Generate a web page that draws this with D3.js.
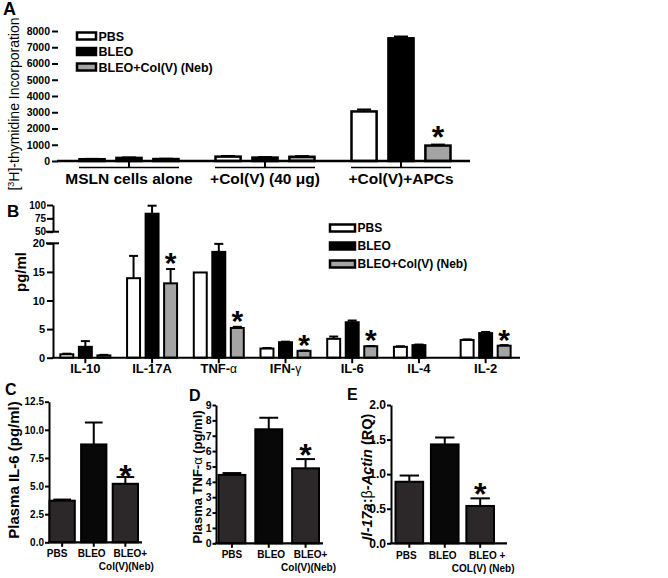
<!DOCTYPE html>
<html><head><meta charset="utf-8">
<script src="https://cdn.jsdelivr.net/npm/d3@7"></script>
<style>body{margin:0;background:#fff} svg{display:block} text{font-family:"Liberation Sans",Arial,Helvetica,sans-serif}</style>
</head><body>
<svg id="chart" width="668" height="578"></svg>
<script>
// ---------------- DATA ----------------
const seriesNames = ["PBS", "BLEO", "BLEO+Col(V) (Neb)"];

// Panel A : [3H]-thymidine incorporation
const groupsA  = ["MSLN cells alone", "+Col(V) (40 μg)", "+Col(V)+APCs"];
const pbsA     = [110, 270, 3050];
const bleoA    = [190, 210, 7550];
const nebA     = [120, 260, 950];
const pbsAErr  = [20, 40, 120];
const bleoAErr = [30, 30, 110];
const nebAErr  = [20, 40, 60];
const sigA     = [false, false, true];
const ticksA   = [0, 1000, 2000, 3000, 4000, 5000, 6000, 7000, 8000];

// Panel B : cytokines pg/ml
const cytokines = ["IL-10", "IL-17A", "TNF-α", "IFN-γ", "IL-6", "IL-4", "IL-2"];
const pbsB      = [0.6, 13.9, 14.9, 1.6, 3.3, 1.9, 3.1];
const bleoB     = [1.9, 83.7, 18.5, 2.7, 6.2, 2.2, 4.3];
const nebB      = [0.4, 13.0, 5.2, 1.2, 2.0, null, 2.1];
const pbsBErr   = [0.1, 3.9, 0, 0.1, 0.4, 0.1, 0.1];
const bleoBErr  = [1.0, 15, 1.4, 0.1, 0.3, 0.1, 0.2];
const nebBErr   = [0.1, 2.5, 0.2, 0.05, 0.05, null, 0.1];
const sigB      = [false, true, true, true, true, false, true];
const ticksBLow  = [0, 5, 10, 15, 20];
const ticksBHigh = [50, 75, 100];

// Panel C : plasma IL-6
const catsC  = ["PBS", "BLEO", "BLEO+\nCol(V)(Neb)"];
const valsC  = [3.7, 8.7, 5.2];
const errsC  = [0.1, 1.95, 0.6];
const sigC   = [false, false, true];
const ticksC = [0, 2.5, 5, 7.5, 10, 12.5];

// Panel D : plasma TNF-α
const catsD  = ["PBS", "BLEO", "BLEO+\nCol(V)(Neb)"];
const valsD  = [4.45, 7.42, 4.88];
const errsD  = [0.12, 0.75, 0.6];
const sigD   = [false, false, true];
const ticksD = [0, 1, 2, 3, 4, 5, 6, 7, 8, 9];

// Panel E : Il-17a : β-Actin
const catsE  = ["PBS", "BLEO", "BLEO +\nCOL(V) (Neb)"];
const valsE  = [0.89, 1.43, 0.54];
const errsE  = [0.09, 0.1, 0.11];
const sigE   = [false, false, true];
const ticksE = [0, 0.5, 1, 1.5, 2];

// ---------------- DRAWING ----------------
const FONT = '"Liberation Sans", Arial, Helvetica, sans-serif';
const svg = d3.select("#chart");
const fillsAB = ["#ffffff", "#000000", "#a4a4a4"];
const fillsCDE = ["#2c2829", "#080808", "#2c2829"];

function styleAxis(g, fs) {
  g.attr("font-family", FONT).attr("font-size", fs);
  g.selectAll("text").attr("font-size", fs).attr("font-weight", "bold").attr("fill", "#000");
  g.selectAll("line").attr("stroke", "#000").attr("stroke-width", 2);
  g.select(".domain").attr("stroke", "#000").attr("stroke-width", 2);
}
function star(g, x, cy, fs) {
  g.append("text").attr("x", x).attr("y", cy + 0.58 * fs).attr("text-anchor", "middle")
    .attr("font-size", fs).attr("font-weight", "bold").text("*");
}
function errBar(g, x, y0, y1, cw, sw) {
  if (Math.abs(y0 - y1) < 0.01) return;
  g.append("line").attr("x1", x).attr("x2", x).attr("y1", y0).attr("y2", y1).attr("stroke", "#000").attr("stroke-width", sw);
  g.append("line").attr("x1", x - cw / 2).attr("x2", x + cw / 2).attr("y1", y1).attr("y2", y1).attr("stroke", "#000").attr("stroke-width", sw);
}
function panelLetter(t, x, y, fs) {
  svg.append("text").attr("x", x).attr("y", y).attr("font-size", fs).attr("font-weight", "bold").text(t);
}
function legend(g, x, y0, dy, w, h, fs, sw) {
  seriesNames.forEach((s, i) => {
    const cy = y0 + i * dy;
    g.append("rect").attr("x", x).attr("y", cy - h / 2).attr("width", w).attr("height", h)
      .attr("fill", fillsAB[i]).attr("stroke", "#000").attr("stroke-width", sw);
    g.append("text").attr("x", x + w + 2.5).attr("y", cy + fs * 0.36).attr("font-size", fs)
      .attr("font-weight", "bold").text(s);
  });
}

// ===== Panel A =====
(function () {
  const g = svg.append("g");
  const y = d3.scaleLinear().domain([0, 8000]).range([161, 31]);
  const x = d3.scaleBand().domain(groupsA).range([61, 469]);
  const xi = d3.scaleBand().domain(seriesNames).range([-49.5, 49.5]).paddingInner(0.32);
  const vals = [pbsA, bleoA, nebA], errs = [pbsAErr, bleoAErr, nebAErr];
  const ax = g.append("g").attr("transform", "translate(58,0)")
    .call(d3.axisLeft(y).tickValues(ticksA).tickFormat(d3.format("d")).tickSize(6).tickPadding(2).tickSizeOuter(0));
  ax.select(".domain").remove();
  styleAxis(ax, 10.5);
  groupsA.forEach((grp, gi) => {
    const cx = x(grp) + x.bandwidth() / 2;
    seriesNames.forEach((s, si) => {
      const v = vals[si][gi];
      const bx = cx + xi(s);
      g.append("rect").attr("x", bx).attr("width", xi.bandwidth()).attr("y", y(v)).attr("height", y(0) - y(v))
        .attr("fill", fillsAB[si]).attr("stroke", "#000").attr("stroke-width", 2.5);
      errBar(g, bx + xi.bandwidth() / 2, y(v), y(v + errs[si][gi]), 14, 2);
      if (si === 2 && sigA[gi]) star(g, bx + xi.bandwidth() / 2, y(v + errs[si][gi]) - 15, 32);
    });
    g.append("line").attr("x1", cx - 50).attr("x2", cx + 50).attr("y1", 167.5).attr("y2", 167.5).attr("stroke", "#000").attr("stroke-width", 1.6);
    g.append("line").attr("x1", cx).attr("x2", cx).attr("y1", y(0)).attr("y2", 167.5).attr("stroke", "#000").attr("stroke-width", 2);
    g.append("text").attr("x", cx).attr("y", 183.5).attr("text-anchor", "middle").attr("font-size", 15.5)
      .attr("font-weight", "bold").text(grp);
  });
  g.append("line").attr("x1", 57).attr("x2", 470).attr("y1", y(0)).attr("y2", y(0)).attr("stroke", "#000").attr("stroke-width", 2.5);
  legend(g, 77, 36, 15.5, 19, 7, 12.5, 2.5);
  const yl = g.append("text").attr("transform", "translate(19,104) rotate(-90)").attr("text-anchor", "middle")
    .attr("font-size", 14);
  yl.append("tspan").text("[");
  yl.append("tspan").attr("baseline-shift", "super").attr("font-size", 9).text("3");
  yl.append("tspan").text("H]-thymidine Incorporation");
  panelLetter("A", 3, 15, 18);
})();

// ===== Panel B =====
(function () {
  const g = svg.append("g");
  const yLow = d3.scaleLinear().domain([0, 20]).range([357.7, 243.3]);
  const yHigh = d3.scaleLinear().domain([50, 100]).range([231.7, 205]);
  const y = d3.scaleLinear().domain([0, 20, 50, 100]).range([357.7, 243.3, 231.7, 205]);
  const x = d3.scaleBand().domain(cytokines).range([52, 519]);
  const xi = d3.scaleBand().domain(seriesNames).range([-25, 25]).paddingInner(0.3);
  const vals = [pbsB, bleoB, nebB], errs = [pbsBErr, bleoBErr, nebBErr];
  const a1 = g.append("g").attr("transform", "translate(53,0)")
    .call(d3.axisLeft(yLow).tickValues(ticksBLow).tickSize(6).tickPadding(2).tickSizeOuter(0));
  styleAxis(a1, 11);
  const a2 = g.append("g").attr("transform", "translate(53,0)")
    .call(d3.axisLeft(yHigh).tickValues(ticksBHigh).tickSize(6).tickPadding(1).tickSizeOuter(0));
  styleAxis(a2, 10);
  [yLow(20), yHigh(50)].forEach(yy => g.append("line").attr("x1", 46).attr("x2", 59).attr("y1", yy).attr("y2", yy).attr("stroke", "#000").attr("stroke-width", 2));
  cytokines.forEach((c, ci) => {
    const cx = x(c) + x.bandwidth() / 2;
    seriesNames.forEach((s, si) => {
      const v = vals[si][ci];
      if (v == null) return;
      const bx = cx + xi(s);
      g.append("rect").attr("x", bx).attr("width", xi.bandwidth()).attr("y", y(v)).attr("height", y(0) - y(v))
        .attr("fill", fillsAB[si]).attr("stroke", "#000").attr("stroke-width", 2);
      errBar(g, bx + xi.bandwidth() / 2, y(v), y(v + errs[si][ci]), 9, 2);
      if (si === 2 && sigB[ci]) star(g, bx + xi.bandwidth() / 2, y(v + errs[si][ci]) - 13, 30);
    });
    g.append("line").attr("x1", cx).attr("x2", cx).attr("y1", y(0)).attr("y2", y(0) + 5.5).attr("stroke", "#000").attr("stroke-width", 2);
    const t = g.append("text").attr("x", cx).attr("y", 373).attr("text-anchor", "middle").attr("font-size", 13).attr("font-weight", "bold");
    const m = c.match(/^(.*-)([αγ])$/);
    if (m) { t.append("tspan").text(m[1]); t.append("tspan").attr("font-weight", "normal").attr("font-size", 12).text(m[2]); }
    else t.text(c);
  });
  g.append("line").attr("x1", 52).attr("x2", 520).attr("y1", y(0)).attr("y2", y(0)).attr("stroke", "#000").attr("stroke-width", 2);
  legend(g, 330, 228, 18, 25, 7, 12, 2.5);
  g.append("text").attr("transform", "translate(26,272) rotate(-90)").attr("text-anchor", "middle")
    .attr("font-size", 15).attr("font-weight", "bold").text("pg/ml");
  panelLetter("B", 7, 217, 17);
})();

// ===== Panels C, D, E =====
function smallPanel(o) {
  const g = svg.append("g");
  const y = d3.scaleLinear().domain([0, o.ticks[o.ticks.length - 1]]).range([o.y0, o.yTop]);
  const x = d3.scaleBand().domain(o.cats).range(o.xr).paddingInner(o.pad);
  const ax = g.append("g").attr("transform", `translate(${o.axisX},0)`)
    .call(d3.axisLeft(y).tickValues(o.ticks).tickFormat(d3.format(o.fmt)).tickSize(o.tick).tickPadding(1).tickSizeOuter(0));
  styleAxis(ax, o.tfs);
  o.cats.forEach((c, i) => {
    const v = o.vals[i], cx = x(c) + x.bandwidth() / 2;
    g.append("rect").attr("x", x(c)).attr("width", x.bandwidth()).attr("y", y(v)).attr("height", y(0) - y(v))
      .attr("fill", fillsCDE[i]).attr("stroke", "#000").attr("stroke-width", 2);
    errBar(g, cx, y(v), y(v + o.errs[i]), x.bandwidth() * 0.7, 2);
    if (o.sig[i]) star(g, cx, y(v + o.errs[i]) - o.starOff, 32);
    g.append("line").attr("x1", cx).attr("x2", cx).attr("y1", y(0)).attr("y2", y(0) + 4.5).attr("stroke", "#000").attr("stroke-width", 2);
    c.split("\n").forEach((ln, li) => {
      g.append("text").attr("x", cx + (li ? o.l2dx : o.ldx[i])).attr("y", o.lab1 + li * 12.5).attr("text-anchor", "middle")
        .attr("font-size", 10).attr("font-weight", "bold").text(ln);
    });
  });
  g.append("line").attr("x1", o.axisX - 1).attr("x2", o.baseEnd).attr("y1", y(0)).attr("y2", y(0)).attr("stroke", "#000").attr("stroke-width", 2.2);
  const yl = g.append("text").attr("transform", `translate(${o.ylx},${o.yly}) rotate(-90)`).attr("text-anchor", "middle")
    .attr("font-size", o.ylfs).attr("font-weight", "bold");
  o.ylab.forEach(p => {
    const t = yl.append("tspan").text(p.t);
    if (p.it) t.attr("font-style", "italic");
    if (p.n) t.attr("font-weight", "normal");
  });
  panelLetter(o.letter, o.lx, o.ly, 16);
}

smallPanel({ cats: catsC, vals: valsC, errs: errsC, sig: sigC, ticks: ticksC, fmt: ".1f",
  y0: 542.3, yTop: 401.7, xr: [49.5, 138], pad: 0.2, axisX: 49, baseEnd: 142, tick: 4, tfs: 10,
  starOff: 9, lab1: 557, ldx: [-5, -2, 5], l2dx: 1, ylx: 19, yly: 470, ylfs: 15, letter: "C", lx: 5, ly: 395,
  ylab: [{ t: "Plasma IL-6 (pg/ml)" }] });

smallPanel({ cats: catsD, vals: valsD, errs: errsD, sig: sigD, ticks: ticksD, fmt: "d",
  y0: 543.3, yTop: 405, xr: [218.5, 319], pad: 0.27, axisX: 216, baseEnd: 323, tick: 3.5, tfs: 10.5,
  starOff: 12, lab1: 558, ldx: [0, 2.5, 5], l2dx: 3, ylx: 202, yly: 477, ylfs: 13, letter: "D", lx: 189, ly: 401,
  ylab: [{ t: "Plasma TNF-" }, { t: "α", n: true }, { t: " (pg/ml)" }] });

smallPanel({ cats: catsE, vals: valsE, errs: errsE, sig: sigE, ticks: ticksE, fmt: ".1f",
  y0: 543.3, yTop: 405, xr: [395.5, 494], pad: 0.22, axisX: 391, baseEnd: 507, tick: 4, tfs: 12,
  starOff: 11.5, lab1: 559, ldx: [-3, -2, 7], l2dx: 3, ylx: 372, yly: 477, ylfs: 14.5, letter: "E", lx: 347, ly: 400,
  ylab: [{ t: "Il-17a", it: true }, { t: ":" }, { t: "β", n: true }, { t: "-Actin", it: true }, { t: " (RQ)" }] });
</script>
</body></html>
